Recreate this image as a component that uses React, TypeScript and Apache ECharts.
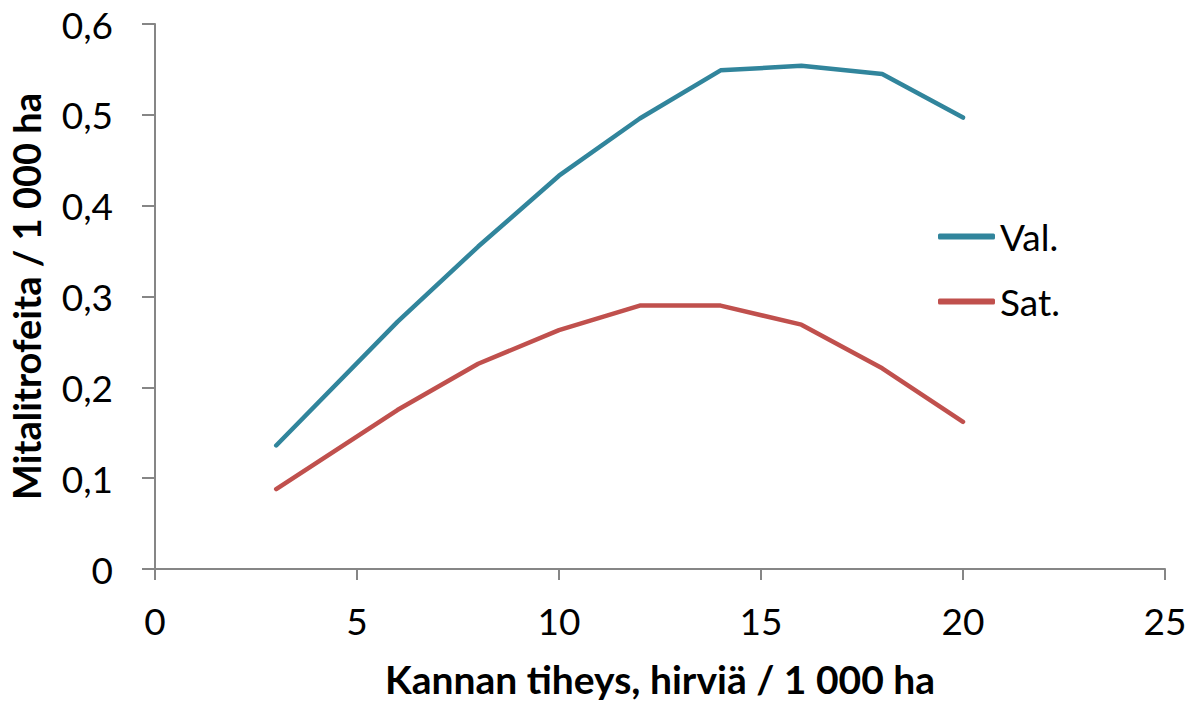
import React, { useEffect, useRef } from "react";
import * as echarts from "echarts";

const xValues = [3, 6, 8, 10, 12, 14, 16, 18, 20];
const valData = [0.136, 0.272, 0.355, 0.433, 0.496, 0.549, 0.554, 0.545, 0.497];
const satData = [0.088, 0.175, 0.226, 0.263, 0.290, 0.290, 0.269, 0.221, 0.162];
const seriesNames = ["Val.", "Sat."];
const xTitle = "Kannan tiheys, hirviä / 1 000 ha";
const yTitle = "Mitalitrofeita / 1 000 ha";

const FONT = "Lato, 'Noto Sans', sans-serif";

export default function App() {
  const ref = useRef<HTMLDivElement>(null);
  useEffect(() => {
    document.body.style.margin = "0";
    const chart = echarts.init(ref.current!, null, { renderer: "svg" });
    chart.setOption({
      animation: false,
      backgroundColor: "#ffffff",
      textStyle: { fontFamily: FONT },
      grid: { left: 155, right: 24, top: 24, bottom: 136, containLabel: false, outerBoundsMode: "none" },
      legend: {
        orient: "vertical",
        left: 933,
        top: 213,
        icon: "roundRect",
        itemWidth: 57,
        itemHeight: 6,
        itemGap: 28,
        textStyle: { fontSize: 37, color: "#000", fontFamily: FONT, padding: [0, 0, 0, 0] },
        data: seriesNames,
      },
      xAxis: {
        type: "value",
        min: 0,
        max: 25,
        interval: 5,
        name: xTitle,
        nameLocation: "middle",
        nameGap: 90,
        nameTextStyle: { fontSize: 39, fontWeight: "bold", color: "#000", fontFamily: FONT },
        axisLine: { lineStyle: { color: "#868686", width: 2 } },
        axisTick: { show: true, length: 11, lineStyle: { color: "#868686", width: 2 } },
        axisLabel: { fontSize: 37, color: "#000", margin: 33, fontFamily: FONT },
        splitLine: { show: false },
      },
      yAxis: {
        type: "value",
        min: 0,
        max: 0.6,
        interval: 0.1,
        name: yTitle,
        nameLocation: "middle",
        nameGap: 110,
        nameTextStyle: { fontSize: 38, fontWeight: "bold", color: "#000", fontFamily: FONT },
        axisLine: { show: true, lineStyle: { color: "#868686", width: 2 } },
        axisTick: { show: true, length: 13, lineStyle: { color: "#868686", width: 2 } },
        axisLabel: {
          fontSize: 37,
          color: "#000",
          margin: 42,
          fontFamily: FONT,
          formatter: (v: number) => (Math.round(v * 10) / 10).toString().replace(".", ","),
        },
        splitLine: { show: false },
      },
      series: [
        {
          name: seriesNames[0],
          type: "line",
          data: xValues.map((x, i) => [x, valData[i]]),
          showSymbol: false,
          symbol: "none",
          lineStyle: { color: "#31859C", width: 4.5, cap: "round", join: "round" },
          itemStyle: { color: "#31859C" },
        },
        {
          name: seriesNames[1],
          type: "line",
          data: xValues.map((x, i) => [x, satData[i]]),
          showSymbol: false,
          symbol: "none",
          lineStyle: { color: "#C0504D", width: 4.5, cap: "round", join: "round" },
          itemStyle: { color: "#C0504D" },
        },
      ],
    });
    return () => chart.dispose();
  }, []);
  return <div ref={ref} style={{ width: 1189, height: 705 }} />;
}
